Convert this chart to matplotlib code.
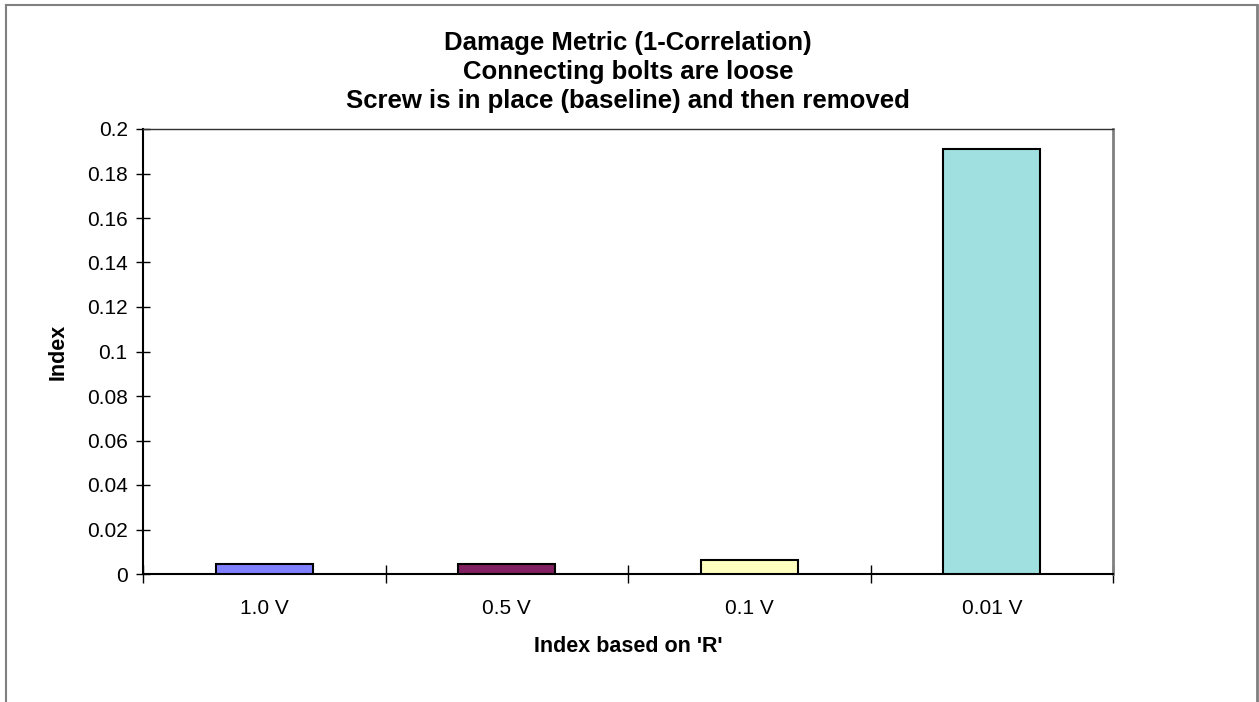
import matplotlib
matplotlib.use("Agg")
import matplotlib.pyplot as plt
from matplotlib.lines import Line2D

categories = ["1.0 V", "0.5 V", "0.1 V", "0.01 V"]
values = [0.0045, 0.0045, 0.0062, 0.191]
colors = ["#8080FF", "#802060", "#FFFFC0", "#A0E0E0"]
yticks = [0, 0.02, 0.04, 0.06, 0.08, 0.1, 0.12, 0.14, 0.16, 0.18, 0.2]
title_lines = ["Damage Metric (1-Correlation)",
               "Connecting bolts are loose",
               "Screw is in place (baseline) and then removed"]

plt.rcParams['font.family'] = ['Liberation Sans', 'DejaVu Sans']

W, H = 1259, 702
fig = plt.figure(figsize=(W / 100, H / 100), dpi=100)
ax = fig.add_axes([143 / W, 1 - 574 / H, (1113 - 143) / W, (574 - 129) / H])

x = list(range(len(categories)))
ax.bar(x, values, width=0.4, color=colors, edgecolor="black", linewidth=1.5, zorder=3)

ax.set_xlim(-0.5, len(categories) - 0.5)
ax.set_ylim(0, 0.2)

# y axis
ax.set_yticks(yticks)
ax.set_yticklabels([("%g" % v) for v in yticks])
ax.tick_params(axis="y", direction="inout", length=10, width=1, labelsize=15, pad=6)

# x axis: ticks at category boundaries, labels at centres
ax.set_xticks([i - 0.5 for i in range(len(categories) + 1)])
ax.set_xticklabels([])
ax.set_xticks(x, minor=True)
ax.set_xticklabels(categories, minor=True)
ax.tick_params(axis="x", which="major", direction="inout", length=13, width=1)
ax.tick_params(axis="x", which="minor", length=0, labelsize=15, pad=18)

for s in ["left", "bottom"]:
    ax.spines[s].set_color("black")
    ax.spines[s].set_linewidth(1.5)
ax.spines["top"].set_color("#303030")
ax.spines["top"].set_linewidth(1.0)
ax.spines["right"].set_color("#808080")
ax.spines["right"].set_linewidth(2.0)

ax.set_ylabel("Index", fontsize=15.5, fontweight="bold")
ax.yaxis.set_label_coords((69 - 143) / (1113 - 143), 0.5)
ax.set_xlabel("Index based on 'R'", fontsize=15.5, fontweight="bold", va="center")
ax.xaxis.set_label_coords(0.5, -(647 - 574) / (574 - 129))

ys = [43, 72, 101]
for t, yy in zip(title_lines, ys):
    fig.text(0.5 * (143 + 1113) / W, 1 - yy / H, t, ha="center", va="center",
             fontsize=18.5, fontweight="bold")

# figure border (chart area)
lc = "#808080"
fig.add_artist(Line2D([6 / W, 6 / W], [0, 1 - 5 / H], transform=fig.transFigure, color=lc, lw=1.5))
fig.add_artist(Line2D([6 / W, 1257 / W], [1 - 5 / H, 1 - 5 / H], transform=fig.transFigure, color=lc, lw=1.5))
fig.add_artist(Line2D([1257 / W, 1257 / W], [0, 1 - 5 / H], transform=fig.transFigure, color=lc, lw=2))

fig.savefig("out.png", dpi=100)
